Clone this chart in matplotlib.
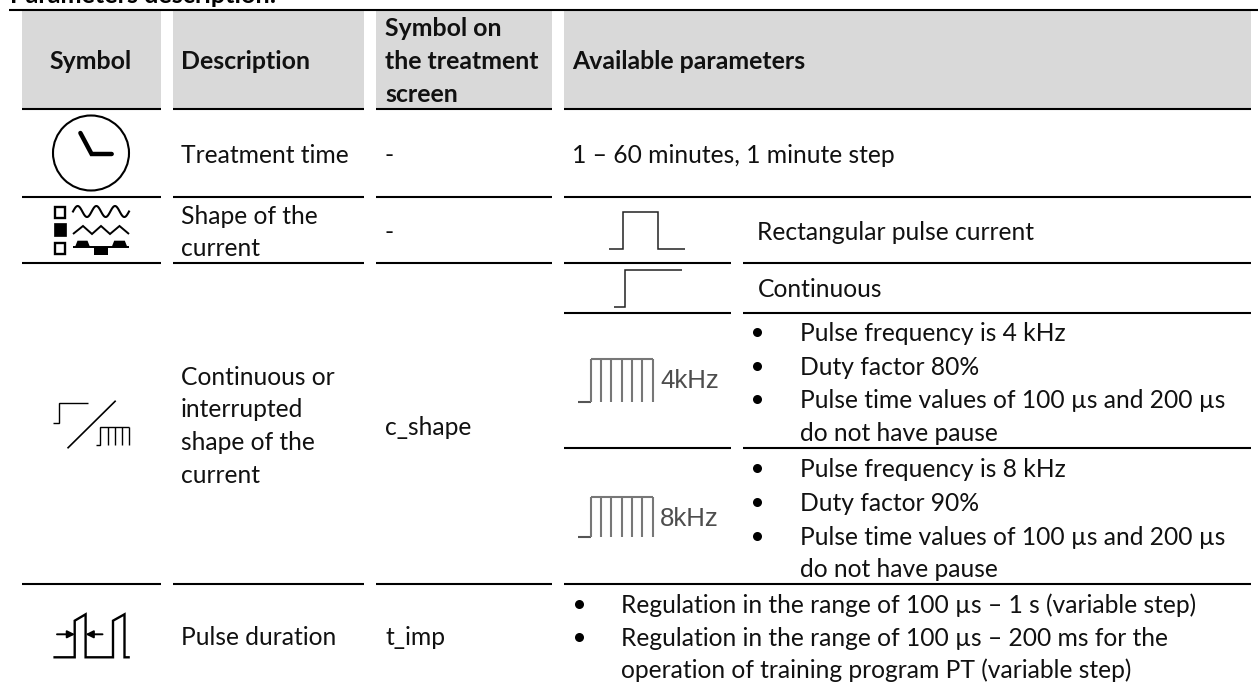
import numpy as np
import matplotlib
matplotlib.use("Agg")
import matplotlib.pyplot as plt
from matplotlib.patches import Ellipse, Rectangle, Polygon

FONT = "Lato"
FS = 17.7
FS_BOLD = 17.9
GREY = "#d9d9d9"
TXT = "#111111"

# ---- table content ----
title = "Parameters description:"
headers = ["Symbol", "Description", "Available parameters"]
header3 = ["Symbol on", "the treatment", "screen"]
desc_rows = [("Treatment time", 155), ("Shape of the", 216), ("current", 248),
             ("Continuous or", 377), ("interrupted", 409), ("shape of the", 442),
             ("current", 475), ("Pulse duration", 637)]
screen_rows = [("-", 155), ("-", 232), ("c_shape", 427), ("t_imp", 637)]
plain_rows = [("1 – 60 minutes, 1 minute step", 572, 155),
              ("Rectangular pulse current", 757, 232),
              ("Continuous", 758, 289)]
bullets_4k = [("Pulse frequency is 4 kHz", 333, True), ("Duty factor 80%", 367, True),
              ("Pulse time values of 100 µs and 200 µs", 400, True), ("do not have pause", 433, False)]
bullets_8k = [("Pulse frequency is 8 kHz", 469, True), ("Duty factor 90%", 503, True),
              ("Pulse time values of 100 µs and 200 µs", 537, True), ("do not have pause", 569, False)]
bullets_imp = [("Regulation in the range of 100 µs – 1 s (variable step)", 605, True),
               ("Regulation in the range of 100 µs – 200 ms for the", 638, True),
               ("operation of training program PT (variable step)", 670, False)]

columns = [(22, 161), (173, 364), (376, 552), (564, 1251)]
rule_full = [108.7, 196.7, 584]
rule_split = [263]
rule_col4 = [313, 448]
pulse_verticals = [590.7, 601, 611.3, 621.7, 632, 642.3, 652.7]

fig = plt.figure(figsize=(12.58, 6.82), dpi=100, facecolor="white")
ax = fig.add_axes([0, 0, 1, 1])
ax.set_xlim(0, 1258)
ax.set_ylim(682, 0)
ax.axis("off")


def put(s, x, y, bold=False, ha="left", size=None):
    ax.text(x, y + 8, s, fontsize=size or (FS_BOLD if bold else FS), family=FONT, color=TXT,
            ha=ha, va="baseline", fontweight="bold" if bold else "normal")


def rule(x0, x1, y, lw=1.5):
    ax.plot([x0, x1], [y, y], color="black", lw=lw, solid_capstyle="butt")


def poly(xs, ys, lw=1.2, color="black", cap="butt"):
    ax.plot(xs, ys, color=color, lw=lw, solid_capstyle=cap, solid_joinstyle="miter")


# title and top rule
ax.text(10, 3, title, fontsize=18.2, family=FONT, fontweight="bold", color="black", va="baseline")
rule(9, 1258, 10, 1.5)

# header fill and rules
for x0, x1 in columns:
    ax.add_patch(Rectangle((x0, 11), x1 - x0, 97, facecolor=GREY, edgecolor="none"))
for y in rule_full:
    for x0, x1 in columns:
        rule(x0, x1, y)
for y in rule_split:
    for x0, x1 in columns[:3]:
        rule(x0, x1, y)
for y in rule_split + rule_col4:
    rule(564, 731, y)
    rule(743, 1251, y)

# header text
put(headers[0], 91, 61, bold=True, ha="center")
put(headers[1], 181, 61, bold=True)
put(headers[2], 572, 61, bold=True)
for s, y in zip(header3, [28, 61, 94]):
    put(s, 385, y, bold=True)

# body text
for s, y in desc_rows:
    put(s, 181, y)
for s, y in screen_rows:
    put(s, 385, y)
for s, x, y in plain_rows:
    put(s, x, y)
for rows, xb, xt in [(bullets_4k, 757, 800), (bullets_8k, 757, 800), (bullets_imp, 578.6, 620.8)]:
    for s, y, b in rows:
        put(s, xt, y)
        if b:
            ax.plot([xb], [y - 1], "o", color="black", ms=6.5, mew=0)

# clock icon
ax.add_patch(Ellipse((91, 153), 76, 75, fill=False, edgecolor="black", lw=1.5))
poly([80.4, 91.6, 111.7], [133, 154, 154], lw=3.2, cap="round")

# current shape icon
ax.add_patch(Rectangle((54.5, 207), 10.5, 10.5, fill=False, edgecolor="black", lw=1.7))
ax.add_patch(Rectangle((54, 223.3), 12, 12.4, facecolor="black", edgecolor="black", lw=0.5))
ax.add_patch(Rectangle((54.5, 243), 10.5, 10.5, fill=False, edgecolor="black", lw=1.7))
t = np.linspace(0, 3, 120)
ax.plot(73 + 56 * t / 3, 211.5 - 5.5 * np.sin(2 * np.pi * t), color="black", lw=1.5)
poly([73, 83, 92, 101, 110, 119.5, 129], [234, 226, 234, 226, 234, 226, 234], lw=1.4)
poly([73, 129], [246.7, 246.7], lw=1.4)
for x0, x1, yb, yt in [(75, 90, 247, 240.7), (111.7, 127.3, 247, 240.7)]:
    ax.add_patch(Polygon([(x0, yb), (x0 + 2.5, yt), (x1 - 2.5, yt), (x1, yb)], facecolor="black", edgecolor="none"))
ax.add_patch(Rectangle((94.3, 246.7), 13.4, 8.3, facecolor="black", edgecolor="none"))

# continuous / interrupted icon
poly([53.4, 58.7, 58.7, 87.6], [422.7, 422.7, 403.3, 403.3], lw=1)
poly([67.5, 115.7], [448.3, 400.7], lw=1.2)
poly([95.6, 100.4, 100.4, 129.4], [445, 445, 426.7, 426.7], lw=1)
for x in [107.5, 114.5, 122, 129]:
    poly([x, x], [426.7, 445], lw=1)

# pulse-duration icon
poly([53.4, 74.7, 74.7, 85.6, 85.6, 113, 113, 124.5, 124.5, 129.8],
     [657.3, 657.3, 620.7, 614.3, 657.3, 657.3, 620.7, 614.3, 657.3, 657.3], lw=1.7)
ax.annotate("", xy=(75, 634.3), xytext=(57, 634.3),
            arrowprops=dict(arrowstyle="-|>", color="black", lw=1.4, mutation_scale=11, shrinkA=0, shrinkB=0))
ax.annotate("", xy=(85.6, 634.3), xytext=(102.5, 634.3),
            arrowprops=dict(arrowstyle="-|>", color="black", lw=1.4, mutation_scale=11, shrinkA=0, shrinkB=0))

# waveforms in the third column
poly([609, 623, 623, 658, 658, 685], [249, 249, 211.7, 211.7, 249, 249], lw=1.1, color="#222222")
poly([614, 624.5, 624.5, 682], [306.7, 306.7, 270, 270], lw=1.1, color="#222222")
PG = "#777777"
for base, top, label, ylab in [(402.3, 359, "4kHz", 381), (536.7, 496.5, "8kHz", 519.5)]:
    poly([578, pulse_verticals[0]], [base, base], lw=1.5, color="#555555")
    poly([pulse_verticals[0], pulse_verticals[-1]], [top, top], lw=1.5, color=PG)
    for x in pulse_verticals:
        poly([x, x], [top, base], lw=1.5, color=PG)
    ax.text(660, ylab, label, fontsize=18.6, family="Liberation Sans", color="#4d4d4d",
            ha="left", va="center")

fig.savefig("out.png", dpi=100, facecolor="white")
